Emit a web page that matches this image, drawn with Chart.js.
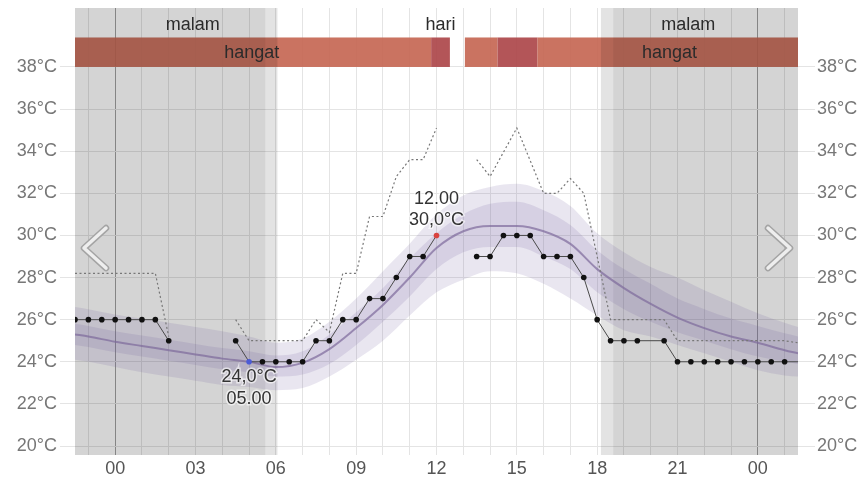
<!DOCTYPE html>
<html>
<head>
<meta charset="utf-8">
<script src="https://cdn.jsdelivr.net/npm/chart.js@4.4.0/dist/chart.umd.min.js"></script>
<style>
  body { margin: 0; background: #fff; }
  canvas { display: block; }
</style>
</head>
<body>
<canvas id="tempChart" width="863" height="479"></canvas>
<script>
// ==== DATA ====
// observasi (tiap 30 menit), lubang = tidak ada data
const obsHours = [-1.5, -1, -0.5, 0, 0.5, 1, 1.5, 2,
  4.5, 5, 5.5, 6, 6.5, 7, 7.5, 8, 8.5, 9, 9.5, 10, 10.5, 11, 11.5, 12,
  13.5, 14, 14.5, 15, 15.5, 16, 16.5, 17, 17.5, 18, 18.5, 19, 19.5,
  20.5, 21, 21.5, 22, 22.5, 23, 23.5, 24, 24.5, 25, 25.5];
const obsTemp = [26, 26, 26, 26, 26, 26, 26, 25,
  25, 24, 24, 24, 24, 24, 25, 25, 26, 26, 27, 27, 28, 29, 29, 30,
  29, 29, 30, 30, 30, 29, 29, 29, 28, 26, 25, 25, 25,
  25, 24, 24, 24, 24, 24, 24, 24, 24, 24, 24];

// suhu terasa (garis titik-titik)
const feelHours = [-1.5, -1, -0.5, 0, 0.5, 1, 1.5, 2,
  4.5, 5, 5.5, 6, 6.5, 7, 7.5, 8, 8.5, 9, 9.5, 10, 10.5, 11, 11.5, 12,
  13.5, 14, 15, 16, 16.5, 17, 17.5, 18.5, 19, 19.5, 20, 20.5,
  21, 22, 23, 24, 25, 25.5];
const feelTemp = [28.2, 28.2, 28.2, 28.2, 28.2, 28.2, 28.2, 25.2,
  26, 25, 25, 25, 25, 25, 26, 25.4, 28.2, 28.2, 30.9, 30.9, 32.8, 33.6, 33.6, 35.1,
  33.6, 32.8, 35.1, 32.0, 32.0, 32.7, 32.0, 26, 26, 26, 26, 26,
  25, 25, 25, 25, 25, 24.9];

// prakiraan (rata-rata + rentang)
const fcHours = [-1.5, -1, 0, 1, 2, 3, 4, 5, 6, 7, 8, 9, 10, 11, 12, 13, 14,
  15, 16, 17, 18, 19, 20, 21, 22, 23, 24, 25, 25.5];
const fcMean = [25.3, 25.2, 24.95, 24.75, 24.55, 24.35, 24.15, 24.0, 23.75, 23.95, 24.6, 25.6, 26.7, 28.0, 29.4, 30.2, 30.45,
  30.45, 30.2, 29.6, 28.4, 27.5, 26.75, 26.1, 25.6, 25.2, 24.9, 24.55, 24.4];
const fcInnerHi = [25.8, 25.7, 25.45, 25.25, 25.05, 24.85, 24.65, 24.5, 24.3, 24.5, 25.3, 26.35, 27.5, 28.9, 30.1, 31.0, 31.5,
  31.6, 31.2, 30.5, 29.3, 28.4, 27.7, 27.0, 26.5, 26.05, 25.7, 25.35, 25.2];
const fcInnerLo = [24.8, 24.7, 24.45, 24.25, 24.05, 23.85, 23.65, 23.5, 23.3, 23.4, 23.9, 24.8, 25.9, 27.1, 28.4, 29.2, 29.45,
  29.45, 29.0, 28.4, 27.3, 26.5, 25.9, 25.4, 25.0, 24.6, 24.25, 24.0, 23.9];
const fcOuterHi = [26.6, 26.5, 26.25, 26.05, 25.85, 25.65, 25.45, 25.2, 24.9, 25.1, 25.9, 27.0, 28.3, 29.6, 31.0, 31.9, 32.3,
  32.45, 32.1, 31.4, 30.1, 29.2, 28.5, 28.0, 27.4, 26.85, 26.3, 25.85, 25.65];
const fcOuterLo = [24.1, 24.0, 23.75, 23.5, 23.3, 23.1, 22.9, 22.8, 22.65, 22.75, 23.3, 24.1, 25.0, 26.2, 27.3, 27.9, 28.3,
  28.2, 27.7, 27.0, 26.2, 25.5, 25.2, 24.8, 24.4, 24.0, 23.6, 23.35, 23.3];

const yTicks = [20, 22, 24, 26, 28, 30, 32, 34, 36, 38];
const xTicks = [-1, 0, 1, 2, 3, 4, 5, 6, 7, 8, 9, 10, 11, 12, 13, 14, 15, 16, 17, 18, 19, 20, 21, 22, 23, 24, 25];

// malam / senja
const nightFrom = [-1.5, 18.6];
const nightTo = [5.61, 25.5];
const duskFrom = [5.61, 18.14];
const duskTo = [6.06, 18.6];
const topLabels = ['malam', 'hari', 'malam'];
const topLabelAt = [2.9, 12.15, 21.4];

// pita kategori suhu
const warmFrom = [-1.5, 11.8, 13.06, 14.28, 15.77];
const warmTo = [11.8, 12.5, 14.28, 15.77, 25.5];
const warmKind = ['hangat', 'panas', 'hangat', 'panas', 'hangat'];
const warmLabelAt = [5.1, 20.7];

// ==== HELPERS ====
const pad2 = n => String(n).padStart(2, '0');
const fmtTemp = v => v.toFixed(1).replace('.', ',') + '°C';
const toXY = (xs, ys) => xs.map((x, i) => ({ x: x, y: ys[i] }));

const minIdx = obsTemp.indexOf(Math.min(...obsTemp));
const maxIdx = obsTemp.indexOf(Math.max(...obsTemp));
const FONT = '"Liberation Sans", Arial, sans-serif';

function textHalo(ctx, txt, x, y) {
  ctx.lineWidth = 3;
  ctx.strokeStyle = 'rgba(255,255,255,0.6)';
  ctx.strokeText(txt, x, y);
  ctx.fillText(txt, x, y);
}

// buang padding label sumbu-y supaya area plot pas
function fitY(width) {
  return s => {
    s.width = width;
    s.paddingTop = 0;
    s.paddingBottom = 0;
  };
}

const backdrop = {
  id: 'backdrop',
  beforeDraw(chart) {
    const c = chart.ctx;
    c.save();
    c.fillStyle = '#fff';
    c.fillRect(0, 0, chart.width, chart.height);
    c.restore();
  },
  beforeDatasetsDraw(chart) {
    const c = chart.ctx, a = chart.chartArea;
    const xs = chart.scales.x, ys = chart.scales.y;
    c.save();
    // pita hangat
    const top = ys.getPixelForValue(39.4), bot = ys.getPixelForValue(38);
    warmFrom.forEach((f, i) => {
      const x0 = xs.getPixelForValue(f), x1 = xs.getPixelForValue(warmTo[i]);
      c.fillStyle = warmKind[i] === 'panas' ? 'rgba(172,70,74,0.92)' : 'rgba(196,100,80,0.9)';
      c.fillRect(x0, top, x1 - x0, bot - top);
    });
    // malam + senja
    nightFrom.forEach((f, i) => {
      const x0 = xs.getPixelForValue(f), x1 = xs.getPixelForValue(nightTo[i]);
      c.fillStyle = 'rgba(0,0,0,0.17)';
      c.fillRect(x0, a.top, x1 - x0, a.bottom - a.top);
    });
    duskFrom.forEach((f, i) => {
      const x0 = xs.getPixelForValue(f), x1 = xs.getPixelForValue(duskTo[i]);
      c.fillStyle = 'rgba(0,0,0,0.11)';
      c.fillRect(x0, a.top, x1 - x0, a.bottom - a.top);
    });
    // teks atas
    c.font = '18px ' + FONT;
    c.textAlign = 'center';
    c.textBaseline = 'middle';
    c.fillStyle = '#2b2b2b';
    topLabels.forEach((t, i) => c.fillText(t, xs.getPixelForValue(topLabelAt[i]), ys.getPixelForValue(40.0)));
    warmLabelAt.forEach(h => c.fillText('hangat', xs.getPixelForValue(h), ys.getPixelForValue(38.68)));
    c.restore();
  },
  afterDatasetsDraw(chart) {
    const c = chart.ctx, a = chart.chartArea;
    const xs = chart.scales.x, ys = chart.scales.y;
    c.save();
    c.font = '18px ' + FONT;
    c.textAlign = 'center';
    c.textBaseline = 'middle';
    c.fillStyle = '#333';
    // label maksimum
    let px = xs.getPixelForValue(obsHours[maxIdx]), py = ys.getPixelForValue(obsTemp[maxIdx]);
    textHalo(c, pad2(obsHours[maxIdx]) + '.00', px, py - 36);
    textHalo(c, fmtTemp(obsTemp[maxIdx]), px, py - 15);
    // label minimum
    px = xs.getPixelForValue(obsHours[minIdx]); py = ys.getPixelForValue(obsTemp[minIdx]);
    textHalo(c, fmtTemp(obsTemp[minIdx]), px, py + 15);
    textHalo(c, pad2(obsHours[minIdx]) + '.00', px, py + 37);
    // panah navigasi
    const midY = ys.getPixelForValue(29.4);
    const arrows = [[a.left + 31, a.left + 9], [a.right - 30, a.right - 8]];
    arrows.forEach(([xo, xi]) => {
      c.beginPath();
      c.moveTo(xo, midY - 20);
      c.lineTo(xi, midY);
      c.lineTo(xo, midY + 20);
      c.lineCap = 'round';
      c.lineJoin = 'round';
      c.lineWidth = 6.5;
      c.strokeStyle = '#a4a4a4';
      c.stroke();
      c.lineWidth = 3.5;
      c.strokeStyle = '#eeeeee';
      c.stroke();
    });
    c.restore();
  }
};

// ==== CHART ====
const band = 'rgba(105,85,155,0.15)';

new Chart(document.getElementById('tempChart').getContext('2d'), {
  type: 'line',
  data: {
    datasets: [
      {
        label: 'Observasi',
        data: toXY(obsHours, obsTemp),
        borderColor: '#4a4a4a',
        borderWidth: 1,
        spanGaps: 1.1,
        pointRadius: ctx => (ctx.dataIndex === obsHours.length - 1 ? 0 : 2.8),
        pointBackgroundColor: ctx => ctx.dataIndex === minIdx ? '#4b5bd6' : (ctx.dataIndex === maxIdx ? '#d9433f' : '#111'),
        pointBorderWidth: 0,
        fill: false
      },
      {
        label: 'Terasa',
        data: toXY(feelHours, feelTemp),
        borderColor: '#777',
        borderWidth: 1.2,
        borderDash: [2, 2.5],
        spanGaps: 1.1,
        pointRadius: 0,
        fill: false
      },
      {
        label: 'Rata-rata',
        data: toXY(fcHours, fcMean),
        borderColor: 'rgba(125,105,155,0.7)',
        borderWidth: 2,
        cubicInterpolationMode: 'monotone',
        pointRadius: 0,
        fill: false
      },
      {
        data: toXY(fcHours, fcInnerHi),
        borderWidth: 0,
        cubicInterpolationMode: 'monotone',
        pointRadius: 0,
        backgroundColor: band,
        fill: '+1'
      },
      {
        data: toXY(fcHours, fcInnerLo),
        borderWidth: 0,
        cubicInterpolationMode: 'monotone',
        pointRadius: 0,
        fill: false
      },
      {
        data: toXY(fcHours, fcOuterHi),
        borderWidth: 0,
        cubicInterpolationMode: 'monotone',
        pointRadius: 0,
        backgroundColor: band,
        fill: '+1'
      },
      {
        data: toXY(fcHours, fcOuterLo),
        borderWidth: 0,
        cubicInterpolationMode: 'monotone',
        pointRadius: 0,
        fill: false
      }
    ]
  },
  options: {
    responsive: false,
    animation: false,
    devicePixelRatio: 1,
    layout: { padding: { top: 8, left: 0, right: 0, bottom: 0 } },
    plugins: {
      legend: { display: false },
      tooltip: { enabled: false }
    },
    scales: {
      x: {
        type: 'linear',
        min: -1.5,
        max: 25.5,
        afterBuildTicks: s => { s.ticks = xTicks.map(v => ({ value: v })); },
        afterFit: s => { s.height = 24; s.paddingLeft = 0; s.paddingRight = 0; },
        border: { display: false },
        grid: {
          drawTicks: false,
          color: ctx => (ctx.tick && ctx.tick.value % 24 === 0 ? '#a0a0a0' : '#e4e4e4'),
          lineWidth: 1
        },
        ticks: {
          autoSkip: false,
          maxRotation: 0,
          padding: 3,
          color: '#555',
          font: { size: 18, family: FONT },
          callback: v => (v % 3 === 0 ? pad2((v + 24) % 24) : '')
        }
      },
      y: {
        position: 'left',
        min: 19.573,
        max: 40.8,
        afterBuildTicks: s => { s.ticks = yTicks.map(v => ({ value: v })); },
        afterFit: fitY(75),
        border: { display: false },
        grid: { color: '#e4e4e4', tickLength: 15 },
        ticks: {
          padding: 3,
          color: '#777',
          font: { size: 18, family: FONT },
          callback: v => v + '°C'
        }
      },
      y2: {
        position: 'right',
        min: 19.573,
        max: 40.8,
        afterBuildTicks: s => { s.ticks = yTicks.map(v => ({ value: v })); },
        afterFit: fitY(65),
        border: { display: false },
        grid: { drawOnChartArea: false, color: '#e4e4e4', tickLength: 17 },
        ticks: {
          padding: 2,
          color: '#777',
          font: { size: 18, family: FONT },
          callback: v => v + '°C'
        }
      }
    }
  },
  plugins: [backdrop]
});
</script>
</body>
</html>
